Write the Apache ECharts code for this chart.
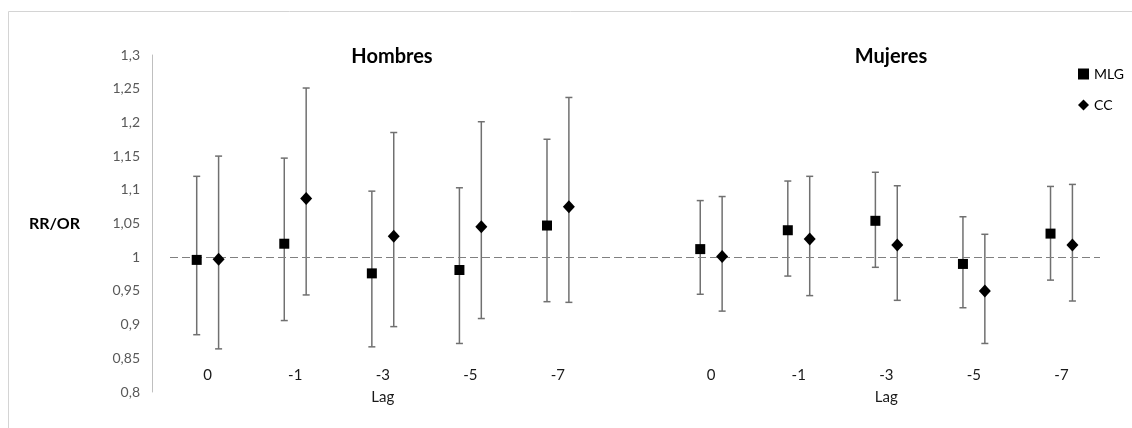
<!DOCTYPE html>
<html>
<head>
<meta charset="utf-8">
<title>RR/OR por lag</title>
<script src="https://cdn.jsdelivr.net/npm/echarts@6/dist/echarts.min.js"></script>
<style>
  html, body { margin: 0; padding: 0; background: #ffffff; }
  #chart { width: 1132px; height: 428px; }
</style>
</head>
<body>
<div id="chart"></div>
<script>
// Lags shown on the horizontal axis (same order for both panels)
const lags = ['0', '-1', '-3', '-5', '-7'];
const groups = ['Hombres', 'Mujeres'];

// Hombres: point estimate and 95% CI
const hombresMLG     = [0.996, 1.020, 0.976, 0.981, 1.047];
const hombresMLGLow  = [0.885, 0.906, 0.867, 0.872, 0.934];
const hombresMLGHigh = [1.120, 1.147, 1.098, 1.103, 1.175];
const hombresCC      = [0.997, 1.087, 1.031, 1.045, 1.075];
const hombresCCLow   = [0.864, 0.944, 0.897, 0.909, 0.933];
const hombresCCHigh  = [1.150, 1.251, 1.185, 1.201, 1.237];

// Mujeres: point estimate and 95% CI
const mujeresMLG     = [1.012, 1.040, 1.054, 0.990, 1.035];
const mujeresMLGLow  = [0.945, 0.972, 0.985, 0.925, 0.966];
const mujeresMLGHigh = [1.084, 1.113, 1.126, 1.060, 1.105];
const mujeresCC      = [1.001, 1.027, 1.018, 0.950, 1.018];
const mujeresCCLow   = [0.920, 0.943, 0.936, 0.872, 0.935];
const mujeresCCHigh  = [1.090, 1.120, 1.106, 1.034, 1.108];

// y-axis scale
const yMin = 0.8, yMax = 1.3, yStep = 0.05;

// layout of the two panels along a shared value axis
const GROUP_SHIFT = 5.75;   // distance between first lag of each panel
const PAIR_OFFSET = 0.125;  // MLG left of centre, CC right of centre

const centres = [];
const labelAt = {};
groups.forEach((g, gi) => lags.forEach((lag, i) => {
  const c = gi * GROUP_SHIFT + i;
  centres.push(c);
  labelAt[c.toFixed(2)] = (i === 2) ? lag + '\nLag' : lag;
}));

function points(vals, off, gi) {
  return vals.map((v, i) => [gi * GROUP_SHIFT + i + off, v]);
}
function bars(lo, hi, off, gi) {
  return lo.map((l, i) => [gi * GROUP_SHIFT + i + off, l, hi[i]]);
}

const mlgPoints = points(hombresMLG, -PAIR_OFFSET, 0).concat(points(mujeresMLG, -PAIR_OFFSET, 1));
const ccPoints  = points(hombresCC, PAIR_OFFSET, 0).concat(points(mujeresCC, PAIR_OFFSET, 1));
const mlgBars = bars(hombresMLGLow, hombresMLGHigh, -PAIR_OFFSET, 0)
  .concat(bars(mujeresMLGLow, mujeresMLGHigh, -PAIR_OFFSET, 1));
const ccBars  = bars(hombresCCLow, hombresCCHigh, PAIR_OFFSET, 0)
  .concat(bars(mujeresCCLow, mujeresCCHigh, PAIR_OFFSET, 1));

// vertical whisker with end caps
function renderErrorBar(params, api) {
  const x = api.value(0);
  const top = api.coord([x, api.value(2)]);
  const bot = api.coord([x, api.value(1)]);
  const cap = 3.5;
  const style = { stroke: '#707070', lineWidth: 1.5 };
  return {
    type: 'group',
    children: [
      { type: 'line', shape: { x1: top[0], y1: top[1], x2: bot[0], y2: bot[1] }, style },
      { type: 'line', shape: { x1: top[0] - cap, y1: top[1], x2: top[0] + cap, y2: top[1] }, style },
      { type: 'line', shape: { x1: bot[0] - cap, y1: bot[1], x2: bot[0] + cap, y2: bot[1] }, style }
    ]
  };
}

const FONT = 'Lato, "Open Sans", sans-serif';

const chart = echarts.init(document.getElementById('chart'), null, { renderer: 'canvas' });
chart.setOption({
  animation: false,
  backgroundColor: '#ffffff',
  textStyle: { fontFamily: FONT },
  graphic: [{
    type: 'rect',
    shape: { x: 8.5, y: 11.5, width: 1300, height: 600 },
    style: { fill: 'none', stroke: '#d4d4d4', lineWidth: 1 },
    silent: true
  }],
  title: [
    { text: groups[0], left: 387, top: 42, textAlign: 'center',
      textStyle: { fontFamily: FONT, fontSize: 20, fontWeight: 'bold', color: '#000' } },
    { text: groups[1], left: 886, top: 42, textAlign: 'center',
      textStyle: { fontFamily: FONT, fontSize: 20, fontWeight: 'bold', color: '#000' } }
  ],
  legend: {
    orient: 'vertical',
    left: 1073,
    top: 62,
    itemWidth: 11,
    itemHeight: 11,
    itemGap: 17,
    textStyle: { fontFamily: FONT, fontSize: 14, color: '#000' },
    data: [{ name: 'MLG', icon: 'rect' }, { name: 'CC', icon: 'diamond' }]
  },
  grid: { left: 170, right: 32, top: 55, bottom: 36 },
  xAxis: {
    type: 'value',
    min: -0.43,
    max: 10.19,
    axisLine: { show: false },
    axisTick: { show: false },
    splitLine: { show: false },
    axisLabel: {
      customValues: centres,
      margin: -28,
      fontFamily: FONT,
      fontSize: 15,
      lineHeight: 22,
      color: '#1a1a1a',
      formatter: v => labelAt[Number(v).toFixed(2)] || ''
    }
  },
  yAxis: {
    type: 'value',
    min: yMin,
    max: yMax,
    interval: yStep,
    offset: 18,
    name: 'RR/OR',
    nameLocation: 'middle',
    nameRotate: 0,
    nameGap: 72,
    nameTextStyle: { fontFamily: FONT, fontSize: 16, fontWeight: 'bold', color: '#000' },
    axisLine: { show: true, onZero: false, lineStyle: { color: '#bfbfbf', width: 1 } },
    axisTick: { show: false },
    splitLine: { show: false },
    axisLabel: {
      margin: 12,
      fontFamily: FONT,
      fontSize: 14,
      color: '#595959',
      formatter: v => String(+v.toFixed(2)).replace('.', ',')
    }
  },
  series: [
    {
      name: 'MLG IC', type: 'custom', renderItem: renderErrorBar,
      data: mlgBars, encode: { x: 0, y: [1, 2] }, z: 3, silent: true
    },
    {
      name: 'CC IC', type: 'custom', renderItem: renderErrorBar,
      data: ccBars, encode: { x: 0, y: [1, 2] }, z: 3, silent: true
    },
    {
      name: 'MLG', type: 'scatter', symbol: 'rect', symbolSize: 10,
      itemStyle: { color: '#000', opacity: 1 }, data: mlgPoints, z: 5,
      markLine: {
        silent: true, symbol: 'none', label: { show: false },
        lineStyle: { color: '#808080', type: [8, 4], width: 1.2 },
        data: [{ yAxis: 1 }]
      }
    },
    {
      name: 'CC', type: 'scatter', symbol: 'diamond', symbolSize: [12, 13],
      itemStyle: { color: '#000', opacity: 1 }, data: ccPoints, z: 5
    }
  ]
});
</script>
</body>
</html>
